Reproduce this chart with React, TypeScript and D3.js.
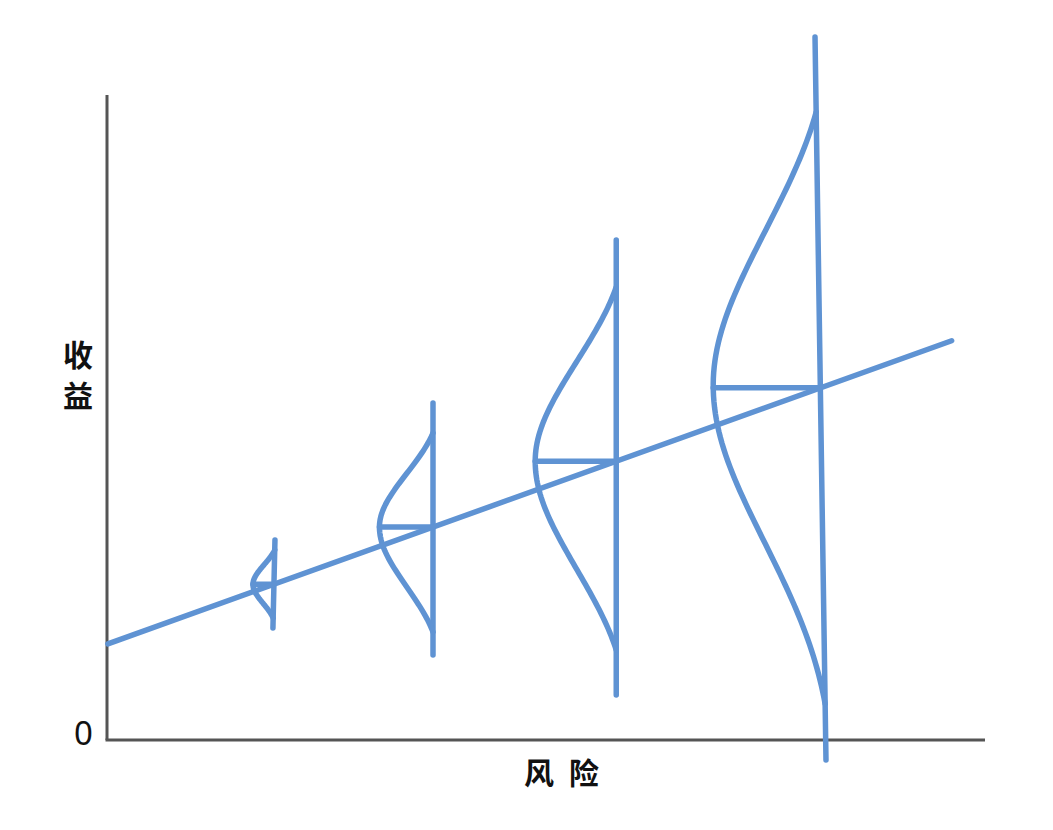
import React from "react";
import * as d3 from "d3";

// ---- data (risk / return units) ----
const axisRiskMax = 10;
const axisReturnMax = 10;
const trendRisk = [0.01, 9.62];
const trendReturn = [1.49, 6.19];

const distNames = ["A", "B", "C", "D"];
const distRiskTop = [1.913, 3.713, 5.8, 8.064];
const distRiskBottom = [1.89, 3.713, 5.8, 8.189];
const distLineTop = [3.1, 5.225, 7.752, 10.9];
const distLineBottom = [1.736, 1.318, 0.698, -0.31];
const distCurveTop = [2.946, 4.76, 7.023, 9.736];
const distCurveBottom = [1.891, 1.674, 1.395, 0.56];
const distSpread = [0.239, 0.61, 0.923, 1.22];

const tickLabels = ["0"];
const yTitle = ["收", "益"];
const xTitle = "风险";

const W = 1053;
const H = 830;
const BLUE = "#5f93d3";
const AXIS = "#555555";

export default function App() {
  const x = d3.scaleLinear().domain([0, axisRiskMax]).range([107, 985]);
  const y = d3.scaleLinear().domain([0, axisReturnMax]).range([740, 95]);
  const trend = (r: number) =>
    trendReturn[0] +
    ((trendReturn[1] - trendReturn[0]) / (trendRisk[1] - trendRisk[0])) * (r - trendRisk[0]);

  const line = d3
    .line<[number, number]>()
    .x((d) => x(d[0]))
    .y((d) => y(d[1]))
    .curve(d3.curveLinear);

  // bell shape (normal density, tapered to meet the vertical line)
  const shape = (u: number, k: number) => Math.exp(-(u * u) / k) * (1 - Math.pow(u, 6));

  const dists = distNames.map((name, i) => {
    const lineRiskAt = (ret: number) =>
      distRiskBottom[i] +
      ((distRiskTop[i] - distRiskBottom[i]) * (ret - distLineBottom[i])) /
        (distLineTop[i] - distLineBottom[i]);
    const midRisk = (distRiskTop[i] + distRiskBottom[i]) / 2;
    const mean = trend(midRisk);
    const pts: [number, number][] = [];
    const n = 100;
    for (let k = 0; k <= n; k++) {
      const ret = distCurveTop[i] - ((distCurveTop[i] - distCurveBottom[i]) * k) / n;
      const up = ret >= mean;
      const u = up
        ? (ret - mean) / (distCurveTop[i] - mean)
        : (mean - ret) / (mean - distCurveBottom[i]);
      const kk = up || i < 3 ? 0.48 : 0.4;
      pts.push([lineRiskAt(ret) - distSpread[i] * shape(Math.min(1, u), kk), ret]);
    }
    const vline: [number, number][] = [
      [distRiskTop[i], distLineTop[i]],
      [distRiskBottom[i], distLineBottom[i]],
    ];
    const hline: [number, number][] = [
      [lineRiskAt(mean) - distSpread[i], mean],
      [lineRiskAt(mean), mean],
    ];
    return { name, pts, vline, hline };
  });

  const trendPts: [number, number][] = [
    [trendRisk[0], trendReturn[0]],
    [trendRisk[1], trendReturn[1]],
  ];

  return (
    <svg
      width={W}
      height={H}
      style={{ position: "absolute", left: 0, top: 0, display: "block", background: "#fff" }}
    >
      {/* axes */}
      <line x1={x(0)} y1={y(axisReturnMax)} x2={x(0)} y2={y(0)} stroke={AXIS} strokeWidth={3} />
      <line x1={x(0) - 1.5} y1={y(0)} x2={x(axisRiskMax)} y2={y(0)} stroke={AXIS} strokeWidth={3} />

      {/* distributions */}
      {dists.map((d) => (
        <g key={d.name} fill="none" stroke={BLUE} strokeWidth={5.5} strokeLinecap="round" strokeLinejoin="round">
          <path d={line(d.vline) || ""} />
          <path d={line(d.pts) || ""} />
          <path d={line(d.hline) || ""} />
        </g>
      ))}

      {/* trend */}
      <path d={line(trendPts) || ""} fill="none" stroke={BLUE} strokeWidth={5.5} strokeLinecap="round" />

      {/* labels */}
      <text
        x={83.5}
        y={y(0) + 5}
        textAnchor="middle"
        fontFamily="'Noto Sans', sans-serif"
        fontSize={33}
        fill="#111"
      >
        {tickLabels[0]}
      </text>
      {yTitle.map((c, i) => (
        <text
          key={c}
          x={78}
          y={366 + i * 41}
          textAnchor="middle"
          fontFamily="'Noto Sans CJK SC', sans-serif"
          fontWeight={700}
          fontSize={30}
          fill="#111"
        >
          {c}
        </text>
      ))}
      <text
        x={569}
        y={784}
        textAnchor="middle"
        fontFamily="'Noto Sans CJK SC', sans-serif"
        fontWeight={700}
        fontSize={30}
        letterSpacing={15}
        fill="#111"
      >
        {xTitle}
      </text>
    </svg>
  );
}
